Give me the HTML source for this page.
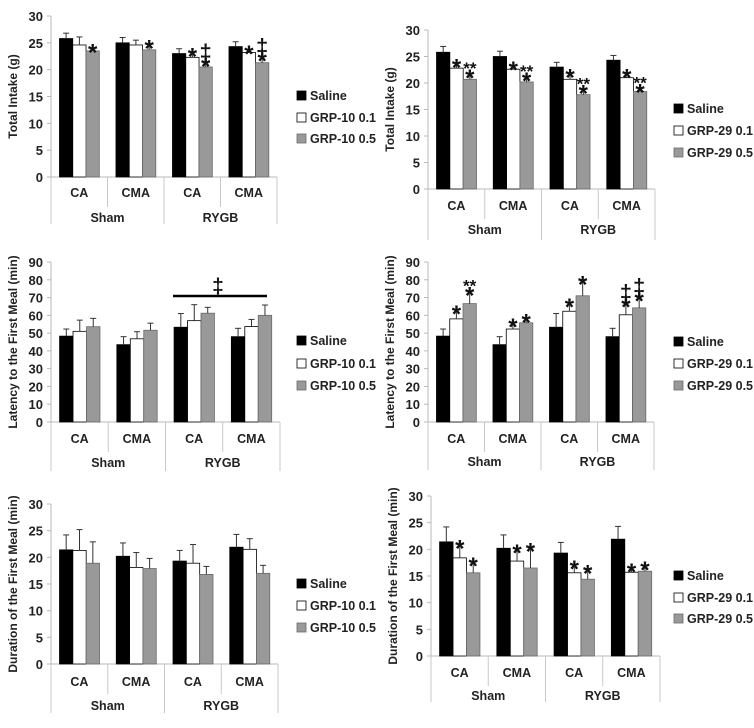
<!DOCTYPE html>
<html><head><meta charset="utf-8">
<style>
html,body{margin:0;padding:0;background:#fff;}
svg{display:block;font-family:"Liberation Sans",sans-serif;font-weight:bold;}
</style></head>
<body>
<svg id="fig" width="754" height="728" viewBox="0 0 754 728" xmlns="http://www.w3.org/2000/svg"></svg>
<script>
const categories = ["CA","CMA","CA","CMA"];
const groups = ["Sham","RYGB"];
// Panel 1: Total intake GRP-10
const p1Saline = [25.8,25,23,24.3], p1SalineErr = [1,1,0.9,0.9];
const p1Low = [24.6,24.6,22.3,23.2], p1LowErr = [1.5,0.9,0.9,0.5];
const p1High = [23.5,23.7,20.5,21.3], p1HighErr = [0.4,1,0.8,1.1];
const p1LowMarks = ["","","*","*"], p1HighMarks = ["*","*","‡*","‡*"];
// Panel 2: Total intake GRP-29
const p2Saline = [25.8,25,23,24.3], p2SalineErr = [1.1,1,0.9,0.9];
const p2Low = [22.8,22.6,20.7,21], p2LowErr = [0.9,0.6,1.1,0.8];
const p2High = [20.7,20.2,17.8,18.4], p2HighErr = [1,0.9,1,0.6];
const p2LowMarks = ["*","*","*","*"], p2HighMarks = ["⁎⁎*","⁎⁎*","⁎⁎*","⁎⁎*"];
// Panel 3: Latency GRP-10
const p3Saline = [48.3,43.5,53.3,48], p3SalineErr = [4,4.5,7.7,4.7];
const p3Low = [51,46.8,57,53.7], p3LowErr = [6.3,4,9,4];
const p3High = [53.6,51.6,61.2,60], p3HighErr = [4.7,4,3.3,5.8];
const p3LowMarks = ["","","",""], p3HighMarks = ["","","",""];
// Panel 4: Latency GRP-29
const p4Saline = [48.3,43.5,53.3,48], p4SalineErr = [4,4.5,7.7,4.7];
const p4Low = [58,52.3,62.3,60.3], p4LowErr = [5,3.5,4.7,6.5];
const p4High = [66.6,55.8,71,64.2], p4HighErr = [6.7,2.5,8.5,6];
const p4LowMarks = ["*","*","*","‡*"], p4HighMarks = ["⁎⁎*","*","*","‡*"];
// Panel 5: Duration GRP-10
const p5Saline = [21.4,20.2,19.3,21.9], p5SalineErr = [2.8,2.5,2,2.4];
const p5Low = [21.3,18.1,18.9,21.5], p5LowErr = [3.9,2.8,3.5,2];
const p5High = [18.9,17.9,16.8,17], p5HighErr = [4,1.9,1.5,1.5];
const p5LowMarks = ["","","",""], p5HighMarks = ["","","",""];
// Panel 6: Duration GRP-29
const p6Saline = [21.4,20.2,19.3,21.9], p6SalineErr = [2.8,2.5,2,2.4];
const p6Low = [18.4,17.8,15.6,15.7], p6LowErr = [2.5,2.3,1.5,0.8];
const p6High = [15.6,16.5,14.4,15.9], p6HighErr = [2,3.8,1.8,1];
const p6LowMarks = ["*","*","*","*"], p6HighMarks = ["*","*","*","*"];
const ticks30 = [0,5,10,15,20,25,30];
const ticks90 = [0,10,20,30,40,50,60,70,80,90];

const NS = "http://www.w3.org/2000/svg";
const svg = document.getElementById('fig');
function mk(tag, attrs, parent, text){
  const e = document.createElementNS(NS, tag);
  for (const k in attrs) e.setAttribute(k, attrs[k]);
  if (text !== undefined) e.textContent = text;
  (parent || svg).appendChild(e);
  return e;
}

function panel(cfg){
  const g = mk('g', {});
  
  
  const ymax = cfg.ticks[cfg.ticks.length-1];
  const yS = v => cfg.y0 - (v/ymax)*(cfg.y0 - cfg.yTop);
  const W = (cfg.right - cfg.ax)/categories.length;
  const axl = mk('line', {x1:cfg.ax, y1:cfg.yTop, x2:cfg.ax, y2:cfg.y0, stroke:'#b8b8b8', 'stroke-width':1}, g);
  
  
  cfg.ticks.forEach(t => {
    const y = yS(t);
    mk('line', {x1:cfg.ax-4, y1:y, x2:cfg.ax, y2:y, stroke:'#b8b8b8'}, g);
    const tl = mk('text', {x:cfg.ax-8, y:y+5, 'text-anchor':'end', 'font-size':13, fill:'#222'}, g, String(t));
    
    
  });
  const yt = mk('text', {x:0, y:0, transform:`translate(${cfg.ax-34},${(cfg.yTop+cfg.y0)/2}) rotate(-90)`, 'text-anchor':'middle', 'font-size':12, fill:'#222'}, g, cfg.title);
  
  
  mk('line', {x1:cfg.ax, y1:cfg.y0, x2:cfg.right, y2:cfg.y0, stroke:'#b8b8b8'}, g);
  for (let i=0;i<=categories.length;i++){
    const x = cfg.ax + i*W;
    const full = (i%2===0);
    mk('line', {x1:x, y1:cfg.y0, x2:x, y2: full ? cfg.bottom : cfg.y0+30, stroke:'#c8c8c8'}, g);
  }
  categories.forEach((c,i) => {
    const t = mk('text', {x:cfg.ax+(i+0.5)*W, y:cfg.catY, 'text-anchor':'middle', 'font-size':12.5, fill:'#222'}, g, c);
    
    
  });
  groups.forEach((c,i) => {
    const t = mk('text', {x:cfg.ax+(i+0.5)*2*W, y:cfg.grpY, 'text-anchor':'middle', 'font-size':12.5, fill:'#222'}, g, c);
    
    
  });
  const series = [
    {v:cfg.s0, e:cfg.e0, fill:'#000', stroke:'#000', marks:null},
    {v:cfg.s1, e:cfg.e1, fill:'#fff', stroke:'#000', marks:cfg.m1},
    {v:cfg.s2, e:cfg.e2, fill:'#999', stroke:'#6a6a6a', marks:cfg.m2}
  ];
  const bw = W*0.235, off = W*0.15;
  series.forEach((s,si) => {
    s.v.forEach((v,i) => {
      const x = cfg.ax + i*W + off + si*bw;
      const y = yS(v);
      const r = mk('rect', {x:x, y:y, width:bw, height:cfg.y0-y, fill:s.fill, stroke:s.stroke, 'stroke-width':0.8}, g);
      
      
      const cx = x + bw/2, ye = yS(v + s.e[i]);
      mk('line', {x1:cx, y1:y, x2:cx, y2:ye, stroke:'#333', 'stroke-width':1}, g);
      mk('line', {x1:cx-3, y1:ye, x2:cx+3, y2:ye, stroke:'#333', 'stroke-width':1}, g);
      if (s.marks && s.marks[i]){
        const chars = Array.from(s.marks[i]);
        const lines = [];
        let k=0;
        while(k<chars.length){
          if (chars[k]==='⁎'){ lines.push('**'); k+=2; }
          else { lines.push(chars[k]); k++; }
        }
        let yy = ye + 12;
        for (let j=lines.length-1;j>=0;j--){
          const L = lines[j];
          let fs = 24, dy = 12;
          if (L==='**'){ fs = 17; dy = 10; }
          if (L==='‡'){ fs = 22; dy = 16; yy -= 3; }
          const t = mk('text', {x:cx, y:yy, 'text-anchor':'middle', 'font-size':fs, fill:'#111'}, g, L);
          
          
          yy -= dy;
        }
      }
    });
  });
  const names = ['Saline', cfg.drug+' 0.1', cfg.drug+' 0.5'];
  names.forEach((n,i) => {
    const y = cfg.legY[i];
    const sw = mk('rect', {x:cfg.legX, y:y-9, width:9, height:9, fill:series[i].fill, stroke:series[i].stroke, 'stroke-width':0.8}, g);
    
    
    const t = mk('text', {x:cfg.legX+13, y:y, 'font-size':12.5, fill:'#222'}, g, n);
    
    
  });
  return {g, yS, W};
}

panel({name:'panel-total-intake-grp10', title:'Total Intake (g)', drug:'GRP-10', ticks:ticks30,
  ax:51, yTop:16, y0:177, right:277, bottom:224, catY:197, grpY:222, legX:297, legY:[100,122,143],
  s0:p1Saline,e0:p1SalineErr,s1:p1Low,e1:p1LowErr,s2:p1High,e2:p1HighErr,m1:p1LowMarks,m2:p1HighMarks});
panel({name:'panel-total-intake-grp29', title:'Total Intake (g)', drug:'GRP-29', ticks:ticks30,
  ax:428, yTop:30, y0:189, right:655, bottom:240, catY:210, grpY:234, legX:674, legY:[113,135,157],
  s0:p2Saline,e0:p2SalineErr,s1:p2Low,e1:p2LowErr,s2:p2High,e2:p2HighErr,m1:p2LowMarks,m2:p2HighMarks});
panel({name:'panel-latency-grp10', title:'Latency to the First Meal (min)', drug:'GRP-10', ticks:ticks90,
  ax:51, yTop:262, y0:422, right:280, bottom:471, catY:443, grpY:467, legX:297, legY:[345,368,390],
  s0:p3Saline,e0:p3SalineErr,s1:p3Low,e1:p3LowErr,s2:p3High,e2:p3HighErr,m1:p3LowMarks,m2:p3HighMarks});
const br = mk('line', {x1:173, y1:296, x2:267, y2:296, stroke:'#000', 'stroke-width':2.5});


const bt = mk('text', {x:218, y:293, 'text-anchor':'middle', 'font-size':21, fill:'#111'}, svg, '‡');


panel({name:'panel-latency-grp29', title:'Latency to the First Meal (min)', drug:'GRP-29', ticks:ticks90,
  ax:428, yTop:262, y0:422, right:654, bottom:470, catY:443, grpY:466, legX:674, legY:[346,368,390],
  s0:p4Saline,e0:p4SalineErr,s1:p4Low,e1:p4LowErr,s2:p4High,e2:p4HighErr,m1:p4LowMarks,m2:p4HighMarks});
panel({name:'panel-duration-grp10', title:'Duration of the First Meal (min)', drug:'GRP-10', ticks:ticks30,
  ax:51, yTop:504, y0:664, right:278, bottom:713, catY:686, grpY:710, legX:297, legY:[588,610,632],
  s0:p5Saline,e0:p5SalineErr,s1:p5Low,e1:p5LowErr,s2:p5High,e2:p5HighErr,m1:p5LowMarks,m2:p5HighMarks});
panel({name:'panel-duration-grp29', title:'Duration of the First Meal (min)', drug:'GRP-29', ticks:ticks30,
  ax:431, yTop:496, y0:656, right:660, bottom:702, catY:677, grpY:700, legX:674, legY:[580,602,623],
  s0:p6Saline,e0:p6SalineErr,s1:p6Low,e1:p6LowErr,s2:p6High,e2:p6HighErr,m1:p6LowMarks,m2:p6HighMarks});
</script>
</body></html>
